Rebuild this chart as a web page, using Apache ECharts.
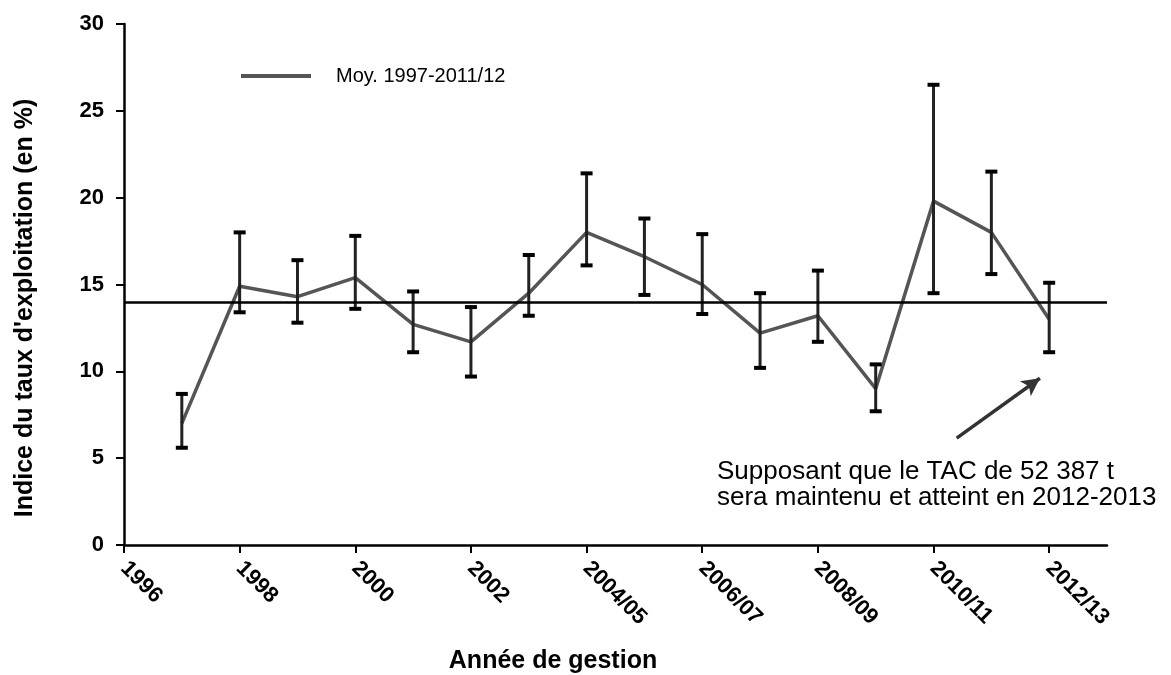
<!DOCTYPE html>
<html>
<head>
<meta charset="utf-8">
<script src="https://cdn.jsdelivr.net/npm/echarts@6/dist/echarts.min.js"></script>
<style>
  html, body { margin: 0; padding: 0; background: #fff; }
  #chart { width: 1171px; height: 675px; }
</style>
</head>
<body>
<div id="chart"></div>
<script>
// saisons de gestion (1 point par an)
const seasons = ['1997', '1998', '1999', '2000', '2001', '2002', '2003', '2004/05',
  '2005/06', '2006/07', '2007/08', '2008/09', '2009/10', '2010/11', '2011/12', '2012/13']
// indice du taux d'exploitation (%)
const values = [7.0, 14.9, 14.3, 15.4, 12.7, 11.7, 14.5, 18.0, 16.6, 15.0, 12.2, 13.2, 9.0, 19.8, 18.0, 13.0]
// bornes des barres d'erreur
const lows = [5.6, 13.4, 12.8, 13.6, 11.1, 9.7, 13.2, 16.1, 14.4, 13.3, 10.2, 11.7, 7.7, 14.5, 15.6, 11.1]
const highs = [8.7, 18.0, 16.4, 17.8, 14.6, 13.7, 16.7, 21.4, 18.8, 17.9, 14.5, 15.8, 10.4, 26.5, 21.5, 15.1]
// etiquettes de l'axe X (une tous les 2 ans)
const tickLabels = ['1996', '1998', '2000', '2002', '2004/05', '2006/07', '2008/09', '2010/11', '2012/13']
// moyenne 1997-2011/12
const meanValue = 14
// fleche de l'annotation (en coordonnees de donnees)
const arrowFrom = [14.4, 6.15]
const arrowTo = [15.84, 9.6]

const FONT = 'Liberation Sans'
const chart = echarts.init(document.getElementById('chart'))

// index 0 = 1996, les saisons commencent a 1
const tickPos = tickLabels.map((_, i) => i * 2)
const lineData = values.map((v, i) => [i + 1, v])
const errData = seasons.map((s, i) => [i + 1, lows[i], highs[i]])

const option = {
  animation: false,
  grid: { left: 124, right: 64, top: 24, bottom: 130 },
  legend: {
    left: 236,
    top: 61,
    icon: 'rect',
    itemWidth: 70,
    itemHeight: 4,
    data: ['Moy. 1997-2011/12'],
    textStyle: { fontFamily: FONT, fontSize: 20, color: '#000', padding: [0, 0, 0, 20] }
  },
  xAxis: {
    type: 'value',
    min: 0,
    max: tickLabels.length * 2 - 1,
    splitLine: { show: false },
    axisLine: { lineStyle: { color: '#000', width: 2.5 } },
    axisTick: { customValues: tickPos, length: 8, lineStyle: { color: '#000', width: 2 } },
    axisLabel: {
      customValues: tickPos,
      formatter: (v) => tickLabels[Math.round(v / 2)],
      rotate: -45,
      margin: 20,
      color: '#000',
      fontFamily: FONT,
      fontWeight: 'bold',
      fontSize: 22
    }
  },
  yAxis: {
    type: 'value',
    min: 0,
    max: 30,
    interval: 5,
    splitLine: { show: false },
    axisLine: { show: true, lineStyle: { color: '#000', width: 2.5 } },
    axisTick: { show: true, length: 8, lineStyle: { color: '#000', width: 2 } },
    axisLabel: { margin: 20, color: '#000', fontFamily: FONT, fontWeight: 'bold', fontSize: 22 }
  },
  graphic: [
    {
      type: 'text',
      x: 25,
      y: 308,
      rotation: Math.PI / 2,
      style: {
        text: "Indice du taux d'exploitation (en %)",
        fontFamily: FONT, fontWeight: 'bold', fontSize: 25,
        fill: '#000', align: 'center', verticalAlign: 'middle'
      }
    },
    {
      type: 'text',
      x: 553,
      y: 661,
      style: {
        text: 'Année de gestion',
        fontFamily: FONT, fontWeight: 'bold', fontSize: 25,
        fill: '#000', align: 'center', verticalAlign: 'middle'
      }
    },
    {
      type: 'text',
      left: 717,
      top: 459,
      style: {
        text: 'Supposant que le TAC de 52 387 t\nsera maintenu et atteint en 2012-2013',
        fontFamily: FONT, fontSize: 26, lineHeight: 26, fill: '#000'
      }
    }
  ],
  series: [
    {
      name: 'Moy. 1997-2011/12',
      type: 'line',
      data: lineData,
      showSymbol: false,
      symbol: 'none',
      itemStyle: { color: '#555' },
      lineStyle: { color: '#555', width: 3.5 },
      z: 2,
      markLine: {
        silent: true,
        symbol: 'none',
        label: { show: false },
        lineStyle: { color: '#000', width: 2.5, type: 'solid' },
        data: [
          { yAxis: meanValue },
          [
            { coord: arrowFrom, symbol: 'none', lineStyle: { color: '#333', width: 3.5 } },
            { coord: arrowTo, symbol: 'arrow', symbolSize: [14, 18], lineStyle: { color: '#333', width: 3.5 } }
          ]
        ]
      }
    },
    {
      type: 'custom',
      data: errData,
      z: 3,
      renderItem: (params, api) => {
        const x = api.value(0)
        const lo = api.coord([x, api.value(1)])
        const hi = api.coord([x, api.value(2)])
        const half = 6
        const cap = { stroke: '#000', lineWidth: 4 }
        return {
          type: 'group',
          children: [
            { type: 'line', shape: { x1: lo[0], y1: lo[1], x2: hi[0], y2: hi[1] }, style: { stroke: '#222', lineWidth: 3 } },
            { type: 'line', shape: { x1: hi[0] - half, y1: hi[1], x2: hi[0] + half, y2: hi[1] }, style: cap },
            { type: 'line', shape: { x1: lo[0] - half, y1: lo[1], x2: lo[0] + half, y2: lo[1] }, style: cap }
          ]
        }
      }
    }
  ]
}

chart.setOption(option)
</script>
</body>
</html>
